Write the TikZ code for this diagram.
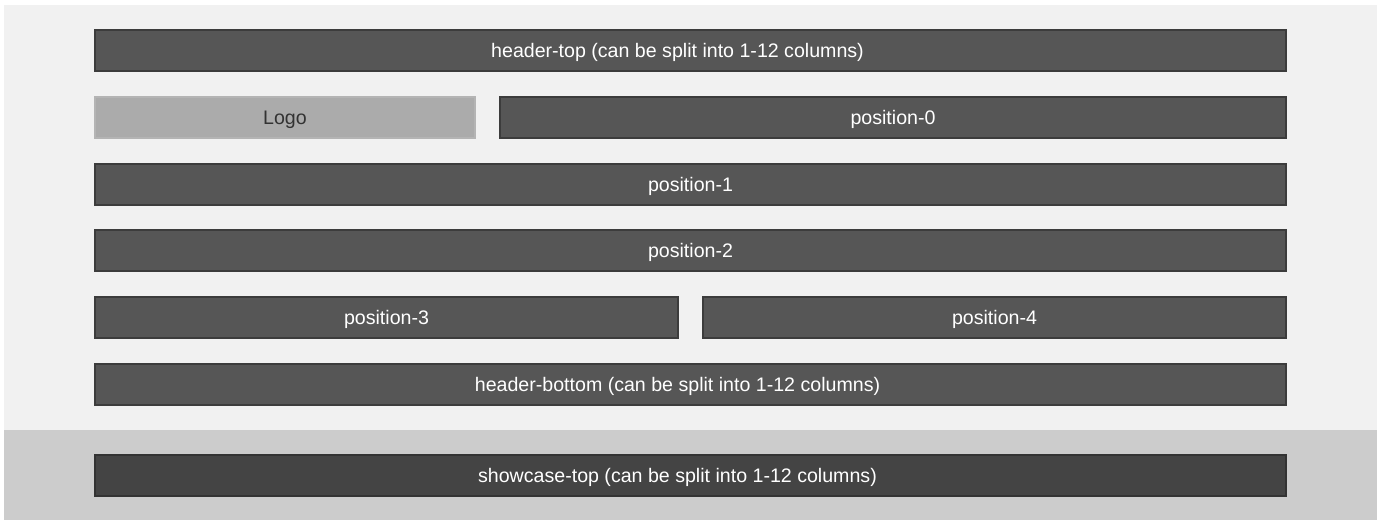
\documentclass[tikz,border=0pt]{standalone}
\usepackage{fontspec}
\setmainfont{Liberation Sans}
\definecolor{pagebg}{HTML}{F1F1F1}
\definecolor{bandbg}{HTML}{CCCCCC}
\definecolor{barfill}{HTML}{565656}
\definecolor{barline}{HTML}{3C3C3C}
\definecolor{showfill}{HTML}{444444}
\definecolor{showline}{HTML}{333333}
\definecolor{logofill}{HTML}{ABABAB}
\definecolor{logoline}{HTML}{B4B4B4}
\definecolor{logotext}{HTML}{333333}
\tikzset{
  bar/.style={draw=barline, fill=barfill, line width=1.2pt, text=white,
    minimum height=41pt, inner sep=0pt, text height=14.2pt, text depth=0pt,
    font=\fontsize{19.6}{22}\selectfont},
  showbar/.style={bar, draw=showline, fill=showfill},
  logobar/.style={bar, draw=logoline, fill=logofill, text=logotext},
}
\newcommand{\leftshift}{\hspace*{26pt}}
\begin{document}
\begin{tikzpicture}[x=1pt,y=-1pt]
\useasboundingbox (0,0) rectangle (1386,520);
\fill[white] (0,0) rectangle (1386,520);
\fill[pagebg] (4,5) rectangle (1377,430);
\fill[bandbg] (4,430) rectangle (1377,520);
\node[bar, minimum width=1191pt] (htop) at (690.5,50.5) {header-top (can be split into 1-12 columns)\leftshift};
\node[logobar, minimum width=380pt] (logo) at (285,117.5) {Logo};
\node[bar, minimum width=786pt] (p0) at (893,117.5) {position-0};
\node[bar, minimum width=1191pt] (p1) at (690.5,184.5) {position-1};
\node[bar, minimum width=1191pt] (p2) at (690.5,250.5) {position-2};
\node[bar, minimum width=583pt] (p3) at (386.5,317.5) {position-3};
\node[bar, minimum width=583pt] (p4) at (994.5,317.5) {position-4};
\node[bar, minimum width=1191pt] (hbot) at (690.5,384.5) {header-bottom (can be split into 1-12 columns)\leftshift};
\node[showbar, minimum width=1191pt] (stop) at (690.5,475.5) {showcase-top (can be split into 1-12 columns)\leftshift};
\end{tikzpicture}
\end{document}
